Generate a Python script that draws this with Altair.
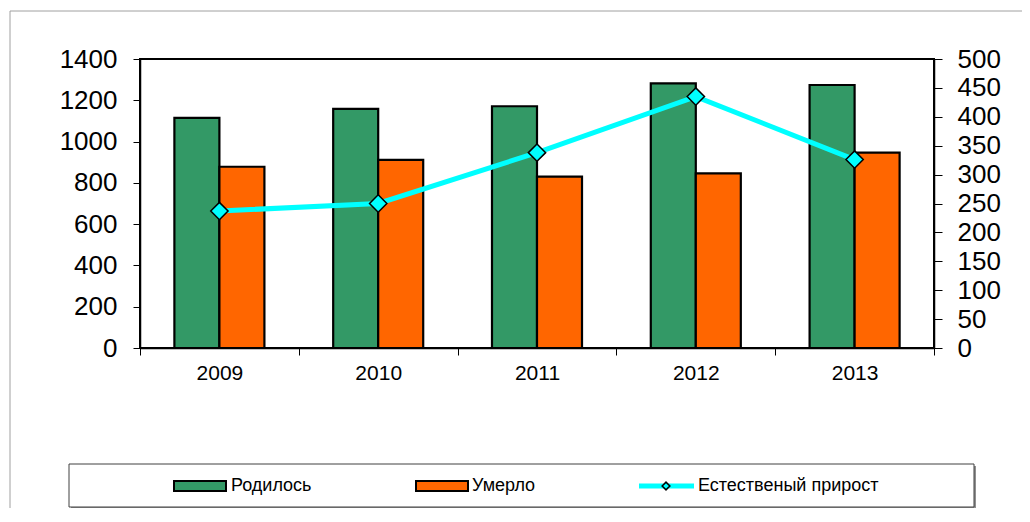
import altair as alt
import pandas as pd

years = ["2009", "2010", "2011", "2012", "2013"]
born = [1115, 1158, 1171, 1282, 1274]
died = [878, 911, 830, 846, 946]
growth = [237, 250, 338, 435, 326]
series = ["Родилось", "Умерло", "Естественый прирост"]
colors = ["#339966", "#FF6600", "#00FFFF"]
left_ticks = [0, 200, 400, 600, 800, 1000, 1200, 1400]
right_ticks = [0, 50, 100, 150, 200, 250, 300, 350, 400, 450, 500]

FONT = "Liberation Sans"
W, H = 794, 289

bars_df = pd.DataFrame({
    "year": years * 2,
    "series": [series[0]] * len(years) + [series[1]] * len(years),
    "value": born + died,
})
line_df = pd.DataFrame({"year": years, "value": growth})
one = pd.DataFrame({"k": [0]})
leg_df = pd.DataFrame({"label": series, "color": colors})

x_axis = alt.Axis(title=None, tickBand="extent", labelFontSize=21, labelPadding=7,
                  tickSize=7, tickColor="black", tickWidth=1, domainColor="black",
                  domainWidth=1.5, labelColor="black", labelFont=FONT, labelAngle=0, zindex=1)
x_enc = alt.X("year:N", sort=years, scale=alt.Scale(paddingInner=0, paddingOuter=0), axis=x_axis)

left_axis = alt.Axis(orient="left", title=None, values=left_ticks, format="d", grid=False,
                     labelFontSize=26, labelPadding=16, tickSize=7, tickColor="black",
                     domainColor="black", domainWidth=1.5, labelColor="black", labelFont=FONT,
                     zindex=1)
right_axis = alt.Axis(orient="right", title=None, values=right_ticks, format="d", grid=False,
                      labelFontSize=26, labelPadding=15, tickSize=8, tickColor="black",
                      domainColor="black", domainWidth=1.5, labelColor="black", labelFont=FONT,
                      zindex=1)

frame_top = alt.Chart(one).mark_rule(color="#a0a0a0", strokeWidth=1).encode(
    x=alt.value(-130), x2=alt.value(1100), y=alt.value(-48))
frame_left = alt.Chart(one).mark_rule(color="#a0a0a0", strokeWidth=1).encode(
    x=alt.value(-130), y=alt.value(-48), y2=alt.value(700))

bars = alt.Chart(bars_df).mark_bar(stroke="black", strokeWidth=2.2).encode(
    x=x_enc,
    xOffset=alt.XOffset("series:N", sort=series[:2],
                        scale=alt.Scale(paddingInner=0, paddingOuter=0.764)),
    y=alt.Y("value:Q", scale=alt.Scale(domain=[0, 1400], nice=False), axis=left_axis),
    color=alt.Color("series:N", scale=alt.Scale(domain=series, range=colors), legend=None),
)

y_right = alt.Y("value:Q", scale=alt.Scale(domain=[0, 500], nice=False), axis=right_axis)
line = alt.Chart(line_df).mark_line(color="#00FFFF", strokeWidth=5).encode(x=x_enc, y=y_right)
points = alt.Chart(line_df).mark_point(shape="diamond", filled=True, color="#00FFFF",
                                       stroke="black", strokeWidth=1.5, size=300,
                                       opacity=1).encode(x=x_enc, y=y_right)
growth_layer = alt.layer(line, points)

# legend (decoration)
leg_shadow = alt.Chart(one).mark_rect(fill="#909090").encode(
    x=alt.value(-69), x2=alt.value(836), y=alt.value(407), y2=alt.value(450))
leg_box = alt.Chart(one).mark_rect(fill="white", stroke="#404040", strokeWidth=1).encode(
    x=alt.value(-71), x2=alt.value(834), y=alt.value(405), y2=alt.value(448))

def leg_rect(i, x0):
    return alt.Chart(leg_df.iloc[[i]]).mark_rect(fill=colors[i], stroke="black", strokeWidth=2).encode(
        x=alt.value(x0), x2=alt.value(x0 + 52), y=alt.value(422), y2=alt.value(432))

def leg_text(i, x0):
    return alt.Chart(leg_df.iloc[[i]]).mark_text(align="left", baseline="middle", fontSize=18,
                                                 font=FONT, color="black").encode(
        x=alt.value(x0), y=alt.value(427), text="label:N")

leg_line = alt.Chart(leg_df.iloc[[2]]).mark_rule(color="#00FFFF", strokeWidth=5).encode(
    x=alt.value(499), x2=alt.value(554), y=alt.value(427))
leg_pt = alt.Chart(leg_df.iloc[[2]]).mark_point(shape="diamond", filled=True, color="#00FFFF",
                                                stroke="black", strokeWidth=1.5, size=60,
                                                opacity=1).encode(
    x=alt.value(526), y=alt.value(427))

legend = alt.layer(leg_shadow, leg_box, leg_rect(0, 34), leg_text(0, 91),
                   leg_rect(1, 276), leg_text(1, 332), leg_line, leg_pt, leg_text(2, 558))

chart = alt.layer(frame_top, frame_left, bars, growth_layer, legend).resolve_scale(y="independent").properties(
    width=W, height=H,
    padding={"left": 132, "top": 51, "right": 88, "bottom": 160},
    autosize=alt.AutoSizeParams(type="none"),
).configure_view(stroke="black", strokeWidth=2)

chart.save("out.html", embed_options={"renderer": "svg", "actions": False})
